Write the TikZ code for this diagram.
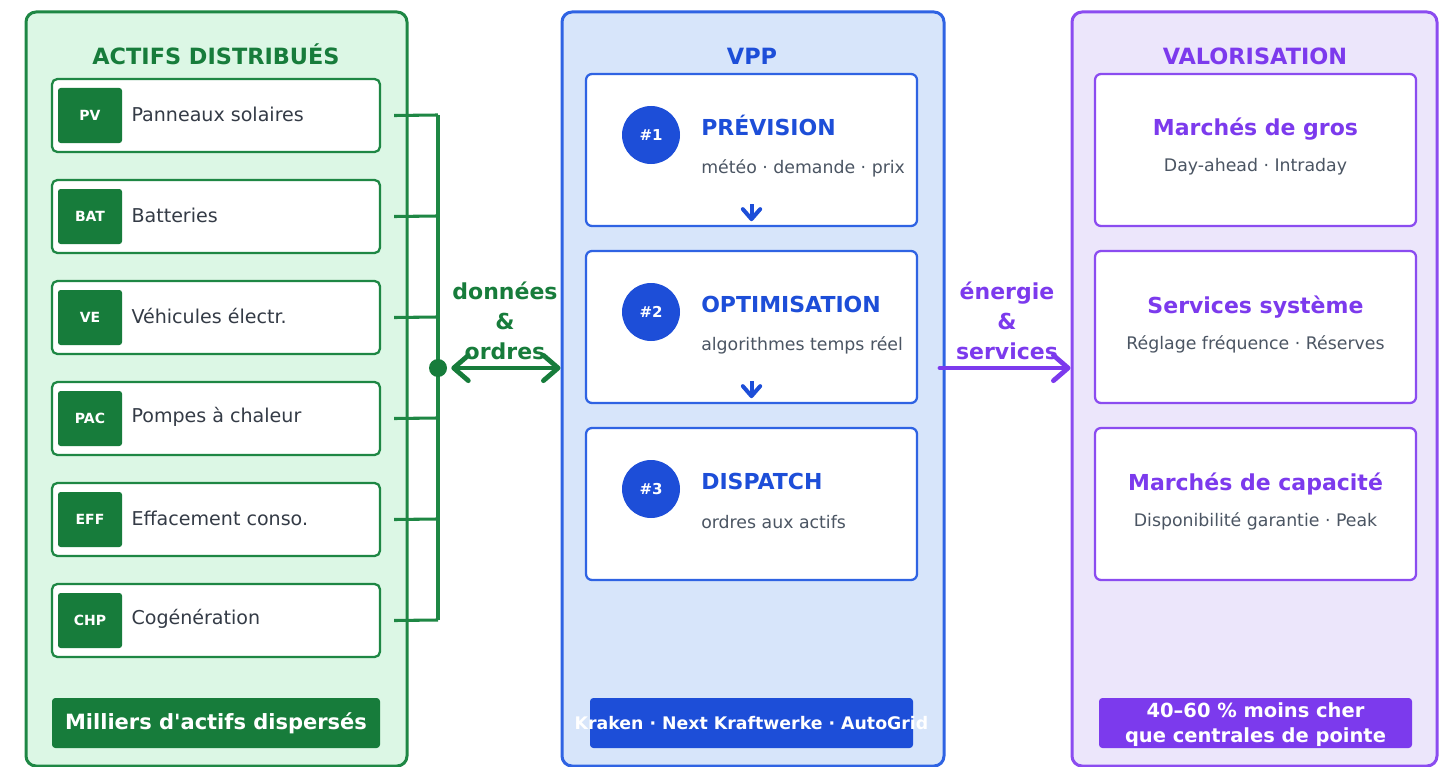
\documentclass[tikz,border=0pt]{standalone}
\usepackage{fontspec}
\setmainfont{DejaVu Sans}
\usetikzlibrary{arrows.meta,calc,fit}

\definecolor{grnline}{HTML}{1E8744}
\definecolor{grnfill}{HTML}{DCF7E5}
\definecolor{grndark}{HTML}{177C3B}
\definecolor{bluline}{HTML}{2F63E3}
\definecolor{blufill}{HTML}{D7E5FA}
\definecolor{bludark}{HTML}{1D4ED8}
\definecolor{purline}{HTML}{8B4CF0}
\definecolor{purfill}{HTML}{ECE6FB}
\definecolor{purdark}{HTML}{7C3AED}
\definecolor{txtdark}{HTML}{343B46}
\definecolor{txtgray}{HTML}{4B5563}

% box spanning two corners given in pixel units
\newcommand\boxat[6]{\node[#6, fit={(#2,#3) (#4,#5)}, inner sep=0pt] (#1) {};}
\newcommand\fsz[2]{\fontsize{#1}{#2}\selectfont}

\tikzset{
  panelG/.style={draw=grnline, fill=grnfill, line width=2.25pt, rounded corners=7.5pt},
  panelB/.style={draw=bluline, fill=blufill, line width=2.25pt, rounded corners=7.5pt},
  panelP/.style={draw=purline, fill=purfill, line width=2.25pt, rounded corners=7.5pt},
  itembox/.style={draw=grnline, fill=white, line width=1.7pt, rounded corners=4pt},
  stepbox/.style={draw=bluline, fill=white, line width=1.7pt, rounded corners=4.5pt},
  valbox/.style={draw=purline, fill=white, line width=1.7pt, rounded corners=4.5pt},
  icon/.style={fill=grndark, rounded corners=2pt},
  barG/.style={fill=grndark, rounded corners=2.5pt},
  barB/.style={fill=bludark, rounded corners=2.5pt},
  barP/.style={fill=purdark, rounded corners=2.5pt},
  ptitle/.style={font=\bfseries\fsz{16.8pt}{20pt}, inner sep=0pt, anchor=base},
  icontxt/.style={text=white, font=\bfseries\fsz{10.5pt}{12pt}, inner sep=0pt},
  itemtxt/.style={text=txtdark, font=\fsz{14.3pt}{17pt}, inner sep=0pt, anchor=west},
  numdisc/.style={circle, fill=bludark, minimum size=43.5pt, inner sep=0pt,
    text=white, font=\bfseries\fsz{11.25pt}{13pt}},
  steptitle/.style={text=bludark, font=\bfseries\fsz{16.5pt}{20pt}, inner sep=0pt, anchor=base west},
  subtxt/.style={text=txtgray, font=\fsz{13pt}{15pt}, inner sep=0pt},
  valtitle/.style={text=purdark, font=\bfseries\fsz{16.5pt}{20pt}, inner sep=0pt, anchor=base},
  bartxt/.style={text=white, font=\bfseries\fsz{13pt}{18.75pt}, inner sep=0pt, align=center},
  flowlbl/.style={font=\bfseries\fsz{16.5pt}{22.5pt}, inner sep=0pt, align=center},
  bus/.style={draw=grnline, line width=2.3pt},
  flowarrow/.style={line width=3.6pt, line cap=round,
    arrows={Straight Barb[length=11pt, width=19pt, round]-Straight Barb[length=11pt, width=19pt, round]}},
  chev/.style={draw=bludark, line width=3pt,
    -{Straight Barb[length=7.5pt, width=13pt, round]}}
}

\begin{document}
\begin{tikzpicture}[x=0.75pt, y=-0.75pt]
\useasboundingbox (0,0) rectangle (1439,767);

% ---------- distributed assets ----------
\boxat{act}{26}{12}{407}{766}{panelG}
\node[ptitle, text=grndark] (actT) at (216,64.5) {ACTIFS DISTRIBUÉS};

\foreach \i/\code/\lab in {1/PV/Panneaux solaires, 2/BAT/Batteries,
    3/VE/Véhicules électr., 4/PAC/Pompes à chaleur,
    5/EFF/Effacement conso., 6/CHP/Cogénération}{
  \pgfmathsetmacro\yt{79+(\i-1)*101}
  \boxat{item\i}{52}{\yt}{380}{\yt+73}{itembox}
  \boxat{ic\i}{58}{\yt+9}{122}{\yt+64}{icon}
  \node[icontxt] (ict\i) at (ic\i) {\code};
  \node[itemtxt] (lab\i) at ($(ic\i.east)+(9,-1.5)$) {\lab};
  \coordinate (b\i) at (438,\yt+36);
}
\boxat{actbar}{52}{698}{380}{748}{barG}
\node[bartxt, font=\bfseries\fsz{15.75pt}{18pt}] (actbarT) at (actbar) {Milliers d\textquotesingle actifs dispersés};

% ---------- VPP ----------
\boxat{vpp}{562}{12}{944}{766}{panelB}
\node[ptitle, text=bludark] (vppT) at (752,64.5) {VPP};

\foreach \i/\num/\tit/\sub in {1/\#1/PRÉVISION/météo · demande · prix,
    2/\#2/OPTIMISATION/algorithmes temps réel,
    3/\#3/DISPATCH/ordres aux actifs}{
  \pgfmathsetmacro\yt{74+(\i-1)*177}
  \boxat{s\i}{586}{\yt}{917}{\yt+152}{stepbox}
  \node[numdisc] (n\i) at (651,\yt+61) {\num};
  \node[steptitle] (st\i) at (701,\yt+61.5) {\tit};
  \node[subtxt, anchor=west] (ss\i) at (701,\yt+94) {\sub};
}
\foreach \i in {1,2}{
  \draw[chev] ($(s\i.south)+(0,-23)$) -- ($(s\i.south)+(0,-6)$);
}
\boxat{vppbar}{590}{698}{913}{748}{barB}
\node[bartxt] (vppbarT) at (vppbar) {Kraken · Next Kraftwerke · AutoGrid};

% ---------- valorisation ----------
\boxat{val}{1072}{12}{1437}{766}{panelP}
\node[ptitle, text=purdark] (valT) at (1255,64.5) {VALORISATION};

\foreach \i/\tit/\sub in {1/Marchés de gros/Day-ahead · Intraday,
    2/Services système/Réglage fréquence · Réserves,
    3/Marchés de capacité/Disponibilité garantie · Peak}{
  \pgfmathsetmacro\yt{74+(\i-1)*177}
  \boxat{v\i}{1095}{\yt}{1416}{\yt+152}{valbox}
  \node[valtitle] (vt\i) at (1255.5,\yt+62) {\tit};
  \node[subtxt] (vs\i) at (1255.5,\yt+93) {\sub};
}
\boxat{valbar}{1099}{698}{1412}{748}{barP}
\node[bartxt, font=\bfseries\fsz{14.6pt}{18.75pt}] (valbarT) at ($(valbar)+(0,2)$) {40–60 \% moins cher\\que centrales de pointe};

% ---------- asset bus and flows ----------
\foreach \i in {1,...,6}{
  \draw[bus] ($(item\i.east)+(13,0)$) -- (b\i);
}
\draw[bus] (b1) -- (b6);
\node[circle, fill=grndark, minimum size=13.5pt, inner sep=0pt] (hub) at (438,368) {};
\draw[flowarrow, draw=grndark, shorten <=3pt] (hub.east) -- (hub -| vpp.west);
\node[flowlbl, text=grndark] (flowG) at (505,321) {données\\\&\\ordres};

\coordinate (pstart) at (940,368);
\draw[flowarrow, draw=purdark, arrows={-Straight Barb[length=11pt, width=19pt, round]}]
  (pstart) -- (pstart -| val.west);
\node[flowlbl, text=purdark] (flowP) at (1007,321) {énergie\\\&\\services};
\end{tikzpicture}
\end{document}
